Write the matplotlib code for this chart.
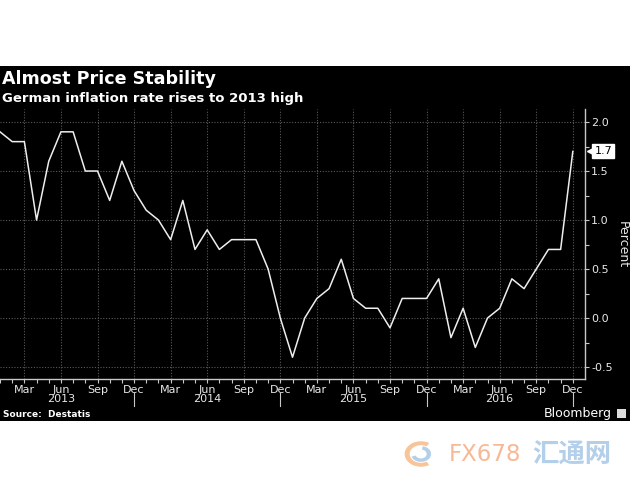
import numpy as np
import matplotlib
matplotlib.use('Agg')
import matplotlib.pyplot as plt
import matplotlib.transforms as transforms
from matplotlib.patches import Rectangle, Wedge

#********************************
# Data (German inflation rate, % y/y, Jan 2013 - Dec 2016)
#********************************
years = ['2013', '2014', '2015', '2016']
month_names = ['Jan', 'Feb', 'Mar', 'Apr', 'May', 'Jun',
               'Jul', 'Aug', 'Sep', 'Oct', 'Nov', 'Dec']

inflation_2013 = [1.9, 1.8, 1.8, 1.0, 1.6, 1.9, 1.9, 1.5, 1.5, 1.2, 1.6, 1.3]
inflation_2014 = [1.1, 1.0, 0.8, 1.2, 0.7, 0.9, 0.7, 0.8, 0.8, 0.8, 0.5, 0.0]
inflation_2015 = [-0.4, 0.0, 0.2, 0.3, 0.6, 0.2, 0.1, 0.1, -0.1, 0.2, 0.2, 0.2]
inflation_2016 = [0.4, -0.2, 0.1, -0.3, 0.0, 0.1, 0.4, 0.3, 0.5, 0.7, 0.7, 1.7]

y_ticks = [-0.5, 0.0, 0.5, 1.0, 1.5, 2.0]

title_text = 'Almost Price Stability'
subtitle_text = 'German inflation rate rises to 2013 high'
source_text = 'Source:  Destatis'

#********************************
# Styles
#********************************
line_color = '#eeeeee'
grid_color = '#5a5a5a'
axis_color = '#c8c8c8'
text_color = '#e8e8e8'
tick_font_size = 8

inflation = inflation_2013 + inflation_2014 + inflation_2015 + inflation_2016
month_index = np.arange(len(inflation))

fig = plt.figure(figsize=(6.3, 4.9), dpi=100)
fig.patch.set_facecolor('white')

# black panel behind title + chart (drawn below the axes)
fig.patches.append(Rectangle((0, 1 - 421 / 490), 1, (421 - 66) / 490,
                             transform=fig.transFigure, facecolor='black',
                             edgecolor='none', zorder=-5))

ax1 = fig.add_axes([0.0, 1 - 379 / 490, 585 / 630, (379 - 109) / 490])
ax1.set_facecolor('black')

ax1.plot(month_index, inflation, color=line_color, linewidth=1.1, zorder=3)

ax1.set_xlim(0, len(inflation))
ax1.set_ylim(-0.622, 2.133)

# x axis: month ticks, quarter labels
quarter_pos = [i for i in month_index if i % 3 == 2]
ax1.set_xticks(quarter_pos)
ax1.set_xticklabels([month_names[i % 12] for i in quarter_pos])
ax1.set_xticks(month_index, minor=True)

ax1.yaxis.tick_right()
ax1.set_yticks(y_ticks)
ax1.set_yticklabels(['%.1f' % v for v in y_ticks])
ax1.set_yticks(np.arange(-0.5, 2.01, 0.25), minor=True)

ax1.tick_params(axis='x', which='both', direction='out', length=3, width=0.8,
                color=axis_color, labelcolor=text_color,
                labelsize=tick_font_size, pad=1)
ax1.tick_params(axis='y', which='both', direction='out', length=3, width=0.8,
                color=axis_color, labelcolor=text_color,
                labelsize=tick_font_size, pad=1.5)

for side in ['left', 'top']:
    ax1.spines[side].set_visible(False)
for side in ['right', 'bottom']:
    ax1.spines[side].set_color(axis_color)
    ax1.spines[side].set_linewidth(1.0)

ax1.grid(True, which='major', color=grid_color, linestyle=(0, (1, 1.5)),
         linewidth=0.8, zorder=1)

# year labels and separators
trans = transforms.blended_transform_factory(ax1.transData, ax1.transAxes)
for k, yr in enumerate(years):
    ax1.text(12 * k + 5, -0.075, yr, transform=trans, ha='center', va='center',
             color=text_color, fontsize=tick_font_size)
    ax1.plot([12 * k + 11, 12 * k + 11], [-0.052, -0.1], transform=trans,
             color=axis_color, linewidth=0.8, clip_on=False)

# last value tag (small box with a notch pointing left)
trans_y = transforms.blended_transform_factory(ax1.transAxes, ax1.transData)
ax1.text(1.016, inflation[-1], '%.1f' % inflation[-1], transform=trans_y,
         ha='left', va='center', color='black', fontsize=tick_font_size,
         bbox=dict(boxstyle='square,pad=0.18', facecolor='white',
                   edgecolor='white'), zorder=5)
ax1.plot([1.011], [inflation[-1]], transform=trans_y, marker='<', markersize=6,
         color='white', clip_on=False, zorder=5)

fig.text(622 / 630, 1 - 245 / 490, 'Percent', rotation=270, ha='center',
         va='center', color=text_color, fontsize=9)

# titles
fig.text(2 / 630, 1 - 79 / 490, title_text, ha='left', va='center',
         color='white', fontsize=12.6, fontweight='bold')
fig.text(2 / 630, 1 - 98.5 / 490, subtitle_text, ha='left', va='center',
         color='white', fontsize=9.5, fontweight='bold')

# footer
fig.text(3 / 630, 1 - 414 / 490, source_text, ha='left', va='center',
         color='white', fontsize=6.5, fontweight='bold')
fig.text(612 / 630, 1 - 413 / 490, 'Bloomberg', ha='right', va='center',
         color='white', fontsize=9)
fig.patches.append(Rectangle((617 / 630, 1 - 418 / 490), 9 / 630, 9 / 490,
                             transform=fig.transFigure, facecolor='#dddddd',
                             edgecolor='none'))

# watermark
fig.patches.append(Wedge((421 / 630, 1 - 454 / 490), 0.026, 60, 300, width=0.008,
                         transform=fig.transFigure, facecolor='#f8c49a',
                         edgecolor='none'))
fig.patches.append(Wedge((421 / 630, 1 - 454 / 490), 0.016, 200, 80, width=0.007,
                         transform=fig.transFigure, facecolor='#b3cfea',
                         edgecolor='none'))
fig.text(449 / 630, 1 - 454 / 490, 'FX678', ha='left', va='center',
         color='#f7b995', fontsize=16.5)
fig.text(532 / 630, 1 - 455 / 490, '汇通网', ha='left', va='center',
         color='#b3cfea', fontsize=19, family=['Noto Sans CJK SC', 'DejaVu Sans'],
         fontweight='bold')

fig.savefig('out.png', dpi=100, facecolor=fig.get_facecolor())
